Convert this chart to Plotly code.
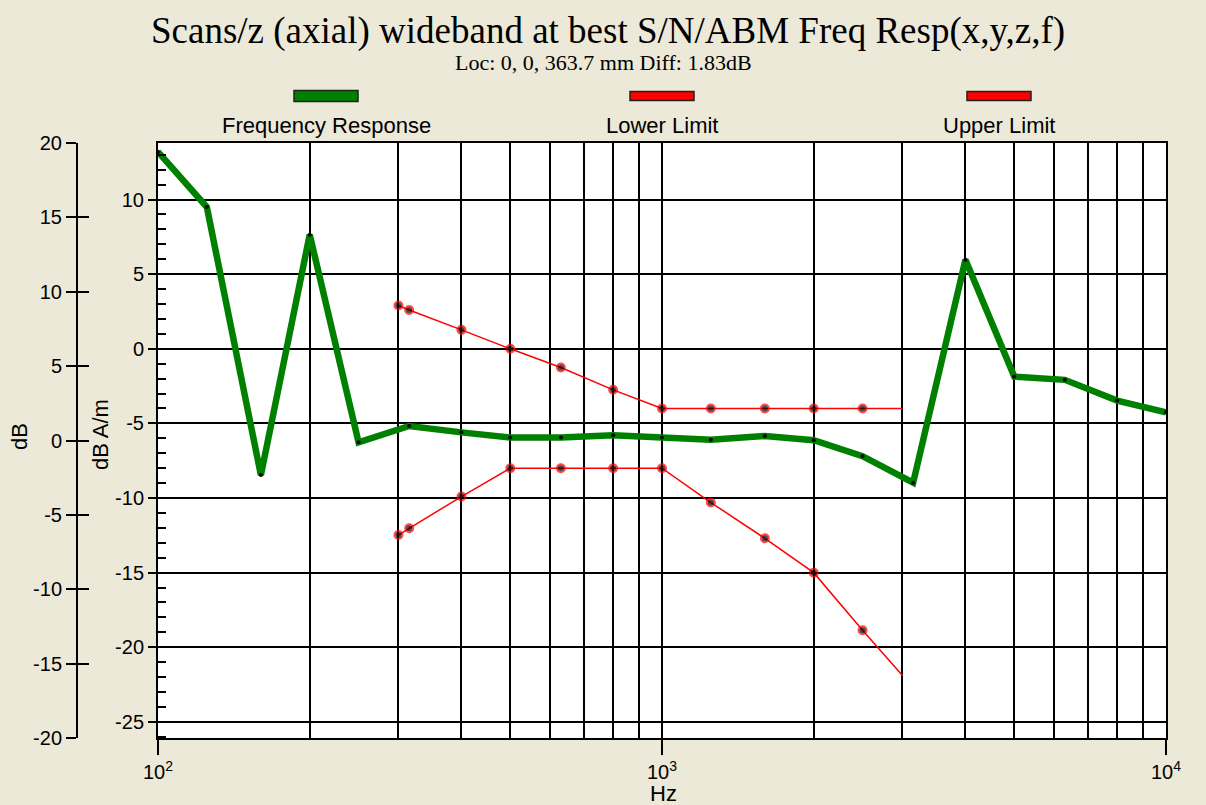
import plotly.graph_objects as go

# ---- data ----
freq_resp_hz = [100, 125, 160, 200, 250, 315, 400, 500, 630, 800, 1000, 1250,
                1600, 2000, 2500, 3150, 4000, 5000, 6300, 8000, 10000]
freq_resp_db = [13.2, 9.5, -8.46, 7.65, -6.26, -5.17, -5.6, -5.95, -5.95, -5.8,
                -5.95, -6.1, -5.84, -6.13, -7.2, -8.97, 5.97, -1.86, -2.08, -3.47, -4.25]

limit_hz = [300, 315, 400, 500, 630, 800, 1000, 1250, 1600, 2000, 2500, 3000]
upper_db = [2.9, 2.6, 1.27, 0.0, -1.25, -2.75, -4.0, -4.0, -4.0, -4.0, -4.0, -4.0]
lower_db = [-12.48, -12.03, -9.9, -8.0, -8.0, -8.0, -8.0, -10.3, -12.7, -15.0, -18.86, -21.9]

inner_ticks = [-25, -20, -15, -10, -5, 0, 5, 10]
outer_ticks = [-20, -15, -10, -5, 0, 5, 10, 15, 20]
x_major = [100, 1000, 10000]
x_major_text = ["10<sup>2</sup>", "10<sup>3</sup>", "10<sup>4</sup>"]
x_minor = [200, 300, 400, 500, 600, 700, 800, 900,
           2000, 3000, 4000, 5000, 6000, 7000, 8000, 9000]

title = "Scans/z (axial) wideband at best S/N/ABM Freq Resp(x,y,z,f)"
subtitle = "Loc: 0, 0, 363.7 mm Diff: 1.83dB"
legend_names = ["Frequency Response", "Lower Limit", "Upper Limit"]

# ---- layout geometry ----
W, H = 1206, 805
ML, MR, MT, MB = 0, 40, 143, 67
PW = W - ML - MR
PH = H - MT - MB
def px(x):
    return (x - ML) / PW
def py(y):
    return (H - MB - y) / PH

SANS = "Liberation Sans, Arial, sans-serif"
SERIF = "Liberation Serif, Times New Roman, serif"

fig = go.Figure()

lim_sizes = [8] * (len(limit_hz) - 1) + [0]

fig.add_trace(go.Scatter(x=limit_hz, y=lower_db, mode="lines+markers",
                         line=dict(color="#FF0000", width=1.5),
                         marker=dict(color="black", size=lim_sizes,
                                     line=dict(color="#FF0000", width=2)),
                         name=legend_names[1], showlegend=False))
fig.add_trace(go.Scatter(x=limit_hz, y=upper_db, mode="lines+markers",
                         line=dict(color="#FF0000", width=1.5),
                         marker=dict(color="black", size=lim_sizes,
                                     line=dict(color="#FF0000", width=2)),
                         name=legend_names[2], showlegend=False))
fig.add_trace(go.Scatter(x=freq_resp_hz, y=freq_resp_db, mode="lines+markers",
                         line=dict(color="#008000", width=6.5),
                         marker=dict(color="black", size=4),
                         name=legend_names[0], showlegend=False))

tickfont = dict(family=SANS, size=20, color="black")
labelfont = dict(family=SANS, size=22, color="black")

fig.update_layout(
    width=W, height=H,
    margin=dict(l=ML, r=MR, t=MT, b=MB, autoexpand=False),
    paper_bgcolor="#ECE9D8",
    plot_bgcolor="white",
    showlegend=False,
    xaxis=dict(type="log", range=[2, 4], domain=[px(158), 1],
               tickvals=x_major, ticktext=x_major_text,
               ticks="outside", ticklen=15, tickwidth=2, tickcolor="black",
               showgrid=True, gridcolor="black", gridwidth=2,
               showline=True, linecolor="black", linewidth=2, mirror=True,
               tickfont=tickfont, zeroline=False,
               minor=dict(tickvals=x_minor, showgrid=True, gridcolor="black",
                          gridwidth=2, ticks=""),
               automargin=False),
    yaxis=dict(range=[-26.08, 13.79], domain=[0, 1],
               tickvals=inner_ticks, ticktext=[str(v) for v in inner_ticks],
               ticks="outside", ticklen=8, tickwidth=2, tickcolor="black",
               showgrid=True, gridcolor="black", gridwidth=2,
               showline=True, linecolor="black", linewidth=2, mirror=True,
               zeroline=False, tickfont=tickfont,
               minor=dict(dtick=1, ticks="inside", ticklen=8, tickwidth=2,
                          tickcolor="black", showgrid=False),
               automargin=False),
    yaxis2=dict(range=[-20, 20], overlaying="y", anchor="free", position=px(77),
                side="left", tickvals=outer_ticks, ticktext=[str(v) for v in outer_ticks],
                ticks="outside", ticklen=10, tickwidth=2, tickcolor="black",
                showgrid=False, zeroline=False,
                showline=True, linecolor="black", linewidth=2,
                tickfont=tickfont, automargin=False),
    yaxis3=dict(range=[-20, 20], overlaying="y", anchor="free", position=px(77),
                side="left", tickvals=outer_ticks[1:-1],
                ticks="inside", ticklen=11, tickwidth=2, tickcolor="black",
                showgrid=False, zeroline=False, showline=False,
                showticklabels=False, automargin=False),
)

# invisible traces to activate outer axes
fig.add_trace(go.Scatter(x=[1000], y=[0], yaxis="y2", mode="markers",
                         marker=dict(opacity=0), hoverinfo="skip", showlegend=False))
fig.add_trace(go.Scatter(x=[1000], y=[0], yaxis="y3", mode="markers",
                         marker=dict(opacity=0), hoverinfo="skip", showlegend=False))

def ann(text, x, y, font, angle=0):
    return dict(text=text, x=px(x), y=py(y), xref="paper", yref="paper",
                xanchor="center", yanchor="middle", showarrow=False,
                textangle=angle, font=font)

annotations = [
    ann(title, 608, 31, dict(family=SERIF, size=37, color="black")),
    ann(subtitle, 603, 62, dict(family=SERIF, size=22, color="black")),
    ann("dB", 19, 437, labelfont, -90),
    ann("dB A/m", 100, 435, labelfont, -90),
    ann("Hz", 663, 793, labelfont),
]
legend_centers = [326, 662, 999]
legend_colors = ["#008000", "#FF0000", "#FF0000"]
shapes = []
for name, cx, col in zip(legend_names, legend_centers, legend_colors):
    annotations.append(ann(name, cx, 125, labelfont))
    hh = 5.5 if col == "#008000" else 4.5
    shapes.append(dict(type="rect", xref="paper", yref="paper",
                       x0=px(cx - 32), x1=px(cx + 32), y0=py(96 + hh), y1=py(96 - hh),
                       fillcolor=col, line=dict(color="#202020", width=1.5)))
fig.update_layout(annotations=annotations, shapes=shapes)

fig.write_html("out.html", config={"displayModeBar": False},
               post_script="document.body.style.margin='0';document.body.style.padding='0';")
